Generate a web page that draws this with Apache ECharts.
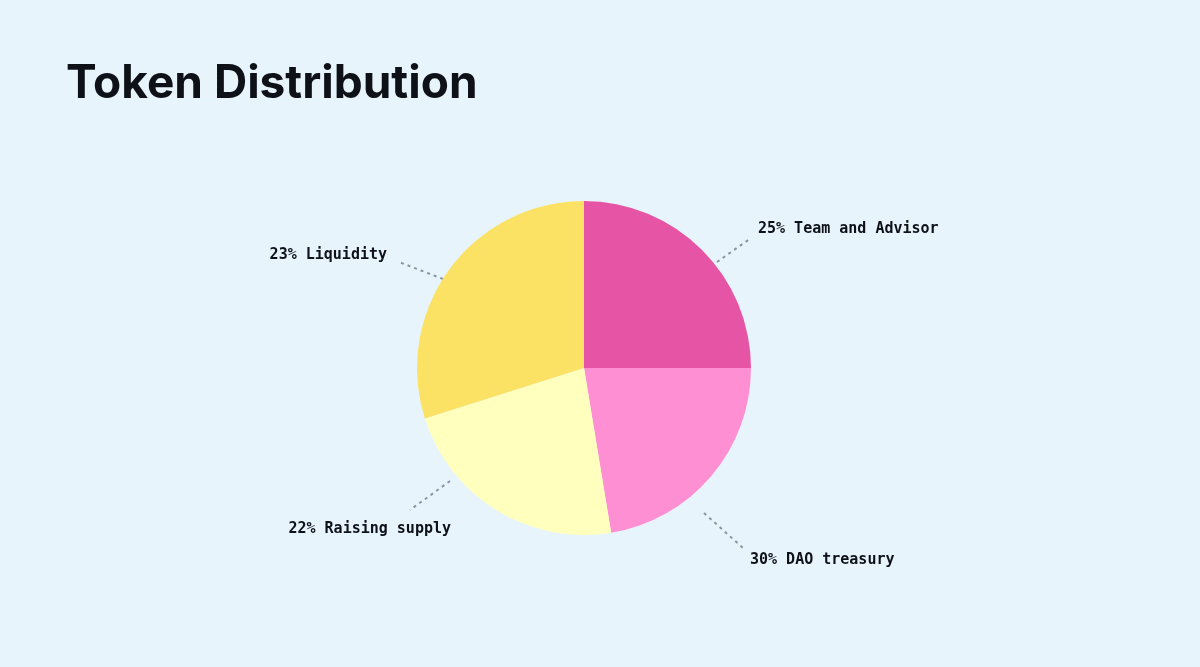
<!DOCTYPE html>
<html>
<head>
<meta charset="utf-8">
<title>Token Distribution</title>
<script src="https://cdn.jsdelivr.net/npm/echarts@6/dist/echarts.min.js"></script>
<style>
  html, body { margin: 0; padding: 0; background: #e8f4fc; }
  #main { width: 1200px; height: 667px; }
</style>
</head>
<body>
<div id="main"></div>
<script>
// slices, clockwise from 12 o'clock
var names = ['Team and Advisor', 'DAO treasury', 'Raising supply', 'Liquidity'];
var values = [25, 22.4, 22.7, 29.9];
// percentages as printed on the labels
var printedPct = [25, 30, 22, 23];
var colors = ['#e655a5', '#ff8fd3', '#ffffbe', '#fbe264'];

// where each label sits and its dotted leader line (start -> end)
var labelSpots = [
    { x: 758, y: 229, align: 'left', line: [[717, 262], [751, 238]] },
    { x: 750, y: 560, align: 'left', line: [[704, 513], [743, 548]] },
    { x: 451, y: 529, align: 'right', line: [[450, 481], [410, 510]] },
    { x: 387, y: 255, align: 'right', line: [[443, 279], [399, 262]] }
];

var myChart = echarts.init(document.getElementById('main'));

var pieData = names.map(function (n, i) {
    return { name: n, value: values[i], itemStyle: { color: colors[i] } };
});

var option = {
    backgroundColor: '#e8f4fc',
    animation: false,
    title: {
        text: 'Token Distribution',
        left: 61,
        top: 56,
        textStyle: {
            fontFamily: 'Inter',
            fontWeight: 'bold',
            fontSize: 46,
            color: '#0e1218'
        }
    },
    series: [{
        type: 'pie',
        center: [584, 368],
        radius: 167,
        startAngle: 90,
        clockwise: true,
        data: pieData,
        emphasis: { disabled: true },
        label: {
            show: true,
            position: 'outside',
            formatter: function (p) {
                return printedPct[p.dataIndex] + '% ' + p.name;
            },
            fontFamily: 'DejaVu Sans Mono',
            fontWeight: 'bold',
            fontSize: 15,
            color: '#0e1218'
        },
        labelLine: {
            show: true,
            lineStyle: {
                color: '#8796a3',
                width: 2,
                type: [3, 4]
            }
        },
        labelLayout: function (params) {
            var s = labelSpots[params.dataIndex];
            var a = s.line[0], b = s.line[1];
            return {
                x: s.x,
                y: s.y,
                align: s.align,
                verticalAlign: 'middle',
                labelLinePoints: [a, [(a[0] + b[0]) / 2, (a[1] + b[1]) / 2], b]
            };
        }
    }]
};

myChart.setOption(option);
</script>
</body>
</html>
